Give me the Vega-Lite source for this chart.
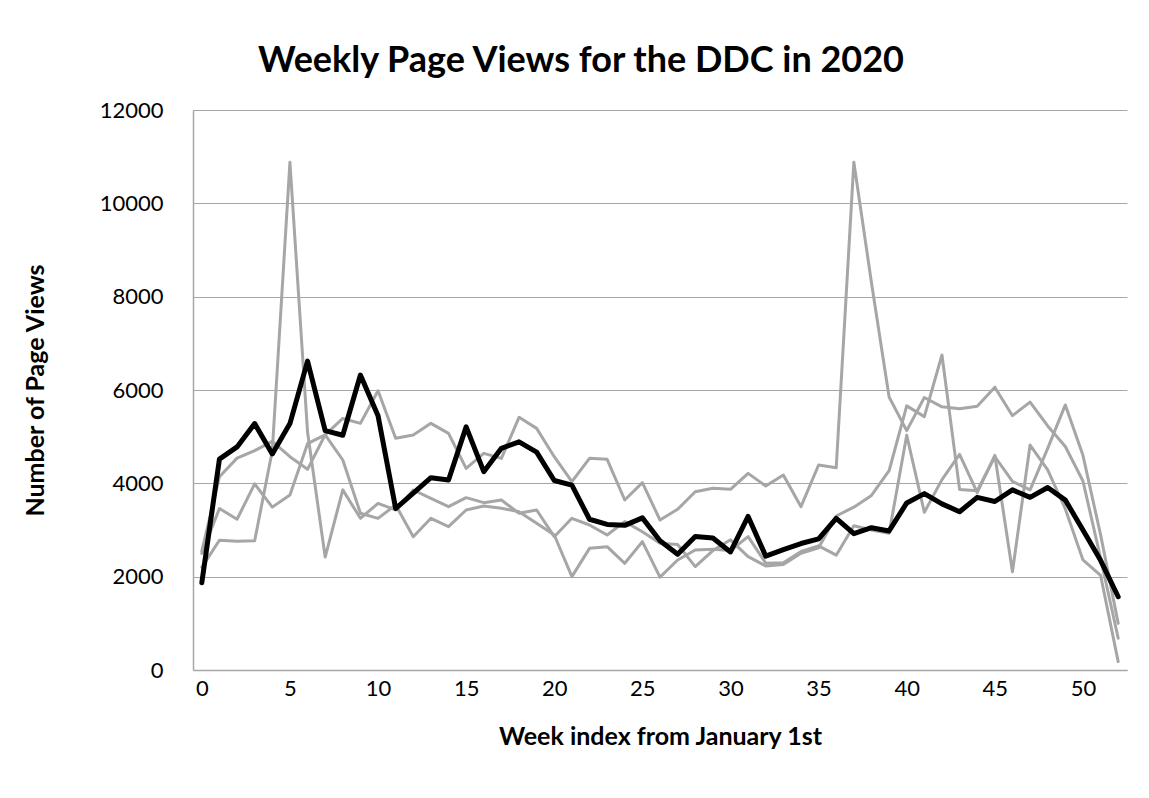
{
  "$schema": "https://vega.github.io/schema/vega-lite/v6.json",
  "width": 934,
  "height": 560,
  "autosize": {"type": "none"},
  "padding": {"left": 193, "top": 110, "right": 22, "bottom": 128},
  "background": "white",
  "title": {
    "text": "Weekly Page Views for the DDC in 2020",
    "font": "Lato",
    "fontSize": 36,
    "fontWeight": "bold",
    "color": "black",
    "anchor": "middle",
    "frame": "group",
    "baseline": "alphabetic",
    "offset": -9,
    "dx": -79
  },
  "config": {
    "view": {"stroke": null},
    "axis": {"labelFont": "Lato", "titleFont": "Lato", "labelColor": "black", "titleColor": "black"}
  },
  "datasets": {
    "views": [
      {"w":0,"s":"A","v":2200},{"w":1,"s":"A","v":2780},{"w":2,"s":"A","v":2760},{"w":3,"s":"A","v":2770},{"w":4,"s":"A","v":4700},{"w":5,"s":"A","v":10880},{"w":6,"s":"A","v":5100},{"w":7,"s":"A","v":2420},{"w":8,"s":"A","v":3860},{"w":9,"s":"A","v":3250},{"w":10,"s":"A","v":3570},{"w":11,"s":"A","v":3430},{"w":12,"s":"A","v":3857},{"w":13,"s":"A","v":3679},{"w":14,"s":"A","v":3500},{"w":15,"s":"A","v":3693},{"w":16,"s":"A","v":3586},{"w":17,"s":"A","v":3643},{"w":18,"s":"A","v":3357},{"w":19,"s":"A","v":3429},{"w":20,"s":"A","v":2857},{"w":21,"s":"A","v":3250},{"w":22,"s":"A","v":3107},{"w":23,"s":"A","v":2893},{"w":24,"s":"A","v":3179},{"w":25,"s":"A","v":2964},{"w":26,"s":"A","v":2714},{"w":27,"s":"A","v":2690},{"w":28,"s":"A","v":2214},{"w":29,"s":"A","v":2560},{"w":30,"s":"A","v":2790},{"w":31,"s":"A","v":2430},{"w":32,"s":"A","v":2230},{"w":33,"s":"A","v":2260},{"w":34,"s":"A","v":2500},{"w":35,"s":"A","v":2620},{"w":36,"s":"A","v":3300},{"w":37,"s":"A","v":3490},{"w":38,"s":"A","v":3740},{"w":39,"s":"A","v":4270},{"w":40,"s":"A","v":5660},{"w":41,"s":"A","v":5430},{"w":42,"s":"A","v":6750},{"w":43,"s":"A","v":3870},{"w":44,"s":"A","v":3840},{"w":45,"s":"A","v":4570},{"w":46,"s":"A","v":4040},{"w":47,"s":"A","v":3860},{"w":48,"s":"A","v":4750},{"w":49,"s":"A","v":5680},{"w":50,"s":"A","v":4600},{"w":51,"s":"A","v":2900},{"w":52,"s":"A","v":1000},
      {"w":0,"s":"B","v":2500},{"w":1,"s":"B","v":3460},{"w":2,"s":"B","v":3230},{"w":3,"s":"B","v":3990},{"w":4,"s":"B","v":3490},{"w":5,"s":"B","v":3750},{"w":6,"s":"B","v":4850},{"w":7,"s":"B","v":5040},{"w":8,"s":"B","v":5390},{"w":9,"s":"B","v":5285},{"w":10,"s":"B","v":5985},{"w":11,"s":"B","v":4964},{"w":12,"s":"B","v":5035},{"w":13,"s":"B","v":5285},{"w":14,"s":"B","v":5071},{"w":15,"s":"B","v":4321},{"w":16,"s":"B","v":4643},{"w":17,"s":"B","v":4535},{"w":18,"s":"B","v":5414},{"w":19,"s":"B","v":5178},{"w":20,"s":"B","v":4571},{"w":21,"s":"B","v":4036},{"w":22,"s":"B","v":4536},{"w":23,"s":"B","v":4514},{"w":24,"s":"B","v":3643},{"w":25,"s":"B","v":4014},{"w":26,"s":"B","v":3214},{"w":27,"s":"B","v":3443},{"w":28,"s":"B","v":3821},{"w":29,"s":"B","v":3893},{"w":30,"s":"B","v":3871},{"w":31,"s":"B","v":4214},{"w":32,"s":"B","v":3943},{"w":33,"s":"B","v":4179},{"w":34,"s":"B","v":3500},{"w":35,"s":"B","v":4393},{"w":36,"s":"B","v":4336},{"w":37,"s":"B","v":10880},{"w":38,"s":"B","v":8300},{"w":39,"s":"B","v":5850},{"w":40,"s":"B","v":5130},{"w":41,"s":"B","v":5840},{"w":42,"s":"B","v":5640},{"w":43,"s":"B","v":5600},{"w":44,"s":"B","v":5650},{"w":45,"s":"B","v":6060},{"w":46,"s":"B","v":5450},{"w":47,"s":"B","v":5740},{"w":48,"s":"B","v":5230},{"w":49,"s":"B","v":4790},{"w":50,"s":"B","v":4050},{"w":51,"s":"B","v":2400},{"w":52,"s":"B","v":680},
      {"w":0,"s":"C","v":2550},{"w":1,"s":"C","v":4140},{"w":2,"s":"C","v":4540},{"w":3,"s":"C","v":4700},{"w":4,"s":"C","v":4900},{"w":5,"s":"C","v":4570},{"w":6,"s":"C","v":4300},{"w":7,"s":"C","v":5040},{"w":8,"s":"C","v":4500},{"w":9,"s":"C","v":3360},{"w":10,"s":"C","v":3250},{"w":11,"s":"C","v":3536},{"w":12,"s":"C","v":2857},{"w":13,"s":"C","v":3250},{"w":14,"s":"C","v":3071},{"w":15,"s":"C","v":3429},{"w":16,"s":"C","v":3514},{"w":17,"s":"C","v":3464},{"w":18,"s":"C","v":3393},{"w":19,"s":"C","v":3143},{"w":20,"s":"C","v":2893},{"w":21,"s":"C","v":2000},{"w":22,"s":"C","v":2607},{"w":23,"s":"C","v":2643},{"w":24,"s":"C","v":2286},{"w":25,"s":"C","v":2750},{"w":26,"s":"C","v":1990},{"w":27,"s":"C","v":2357},{"w":28,"s":"C","v":2571},{"w":29,"s":"C","v":2586},{"w":30,"s":"C","v":2560},{"w":31,"s":"C","v":2857},{"w":32,"s":"C","v":2290},{"w":33,"s":"C","v":2300},{"w":34,"s":"C","v":2540},{"w":35,"s":"C","v":2660},{"w":36,"s":"C","v":2460},{"w":37,"s":"C","v":3090},{"w":38,"s":"C","v":3000},{"w":39,"s":"C","v":2930},{"w":40,"s":"C","v":5030},{"w":41,"s":"C","v":3380},{"w":42,"s":"C","v":4080},{"w":43,"s":"C","v":4620},{"w":44,"s":"C","v":3800},{"w":45,"s":"C","v":4600},{"w":46,"s":"C","v":2107},{"w":47,"s":"C","v":4820},{"w":48,"s":"C","v":4290},{"w":49,"s":"C","v":3450},{"w":50,"s":"C","v":2360},{"w":51,"s":"C","v":2030},{"w":52,"s":"C","v":180},
      {"w":0,"s":"Mean","v":1870},{"w":1,"s":"Mean","v":4520},{"w":2,"s":"Mean","v":4780},{"w":3,"s":"Mean","v":5280},{"w":4,"s":"Mean","v":4630},{"w":5,"s":"Mean","v":5280},{"w":6,"s":"Mean","v":6620},{"w":7,"s":"Mean","v":5130},{"w":8,"s":"Mean","v":5030},{"w":9,"s":"Mean","v":6320},{"w":10,"s":"Mean","v":5450},{"w":11,"s":"Mean","v":3460},{"w":12,"s":"Mean","v":3790},{"w":13,"s":"Mean","v":4120},{"w":14,"s":"Mean","v":4070},{"w":15,"s":"Mean","v":5210},{"w":16,"s":"Mean","v":4250},{"w":17,"s":"Mean","v":4750},{"w":18,"s":"Mean","v":4890},{"w":19,"s":"Mean","v":4670},{"w":20,"s":"Mean","v":4060},{"w":21,"s":"Mean","v":3960},{"w":22,"s":"Mean","v":3230},{"w":23,"s":"Mean","v":3120},{"w":24,"s":"Mean","v":3100},{"w":25,"s":"Mean","v":3260},{"w":26,"s":"Mean","v":2770},{"w":27,"s":"Mean","v":2480},{"w":28,"s":"Mean","v":2860},{"w":29,"s":"Mean","v":2830},{"w":30,"s":"Mean","v":2530},{"w":31,"s":"Mean","v":3290},{"w":32,"s":"Mean","v":2440},{"w":33,"s":"Mean","v":2580},{"w":34,"s":"Mean","v":2710},{"w":35,"s":"Mean","v":2810},{"w":36,"s":"Mean","v":3250},{"w":37,"s":"Mean","v":2920},{"w":38,"s":"Mean","v":3050},{"w":39,"s":"Mean","v":2980},{"w":40,"s":"Mean","v":3580},{"w":41,"s":"Mean","v":3780},{"w":42,"s":"Mean","v":3560},{"w":43,"s":"Mean","v":3390},{"w":44,"s":"Mean","v":3700},{"w":45,"s":"Mean","v":3610},{"w":46,"s":"Mean","v":3860},{"w":47,"s":"Mean","v":3700},{"w":48,"s":"Mean","v":3910},{"w":49,"s":"Mean","v":3640},{"w":50,"s":"Mean","v":3000},{"w":51,"s":"Mean","v":2350},{"w":52,"s":"Mean","v":1570}
    ]
  },
  "data": {"name": "views"},
  "encoding": {
    "x": {
      "field": "w",
      "type": "quantitative",
      "scale": {"domain": [-0.5, 52.5], "nice": false, "zero": false},
      "axis": {
        "values": [0, 5, 10, 15, 20, 25, 30, 35, 40, 45, 50],
        "grid": false,
        "ticks": false,
        "domain": true,
        "domainColor": "#A6A6A6",
        "domainWidth": 1.5,
        "labelFontSize": 22,
        "labelPadding": 8,
        "title": "Week index from January 1st",
        "titleFontSize": 25,
        "titleFontWeight": "bold",
        "titleX": 467,
        "titleY": 66,
        "titleBaseline": "middle"
      }
    },
    "y": {
      "field": "v",
      "type": "quantitative",
      "scale": {"domain": [0, 12000], "nice": false},
      "axis": {
        "values": [0, 2000, 4000, 6000, 8000, 10000, 12000],
        "format": "d",
        "grid": true,
        "gridColor": "#A6A6A6",
        "gridWidth": 1.2,
        "ticks": false,
        "domain": true,
        "domainColor": "#A6A6A6",
        "domainWidth": 1.5,
        "labelFontSize": 22,
        "labelPadding": 30,
        "title": "Number of Page Views",
        "titleFontSize": 25,
        "titleFontWeight": "bold",
        "titleAngle": -90,
        "titleX": -158,
        "titleY": 280,
        "titleAlign": "center",
        "titleBaseline": "middle"
      }
    }
  },
  "layer": [
    {
      "transform": [{"filter": "datum.s !== 'Mean'"}],
      "mark": {"type": "line", "color": "#A6A6A6", "strokeWidth": 3, "strokeJoin": "round", "strokeCap": "round"},
      "encoding": {"detail": {"field": "s", "type": "nominal"}}
    },
    {
      "transform": [{"filter": "datum.s === 'Mean'"}],
      "mark": {"type": "line", "color": "black", "strokeWidth": 5, "strokeJoin": "round", "strokeCap": "round"},
      "encoding": {}
    }
  ]
}
